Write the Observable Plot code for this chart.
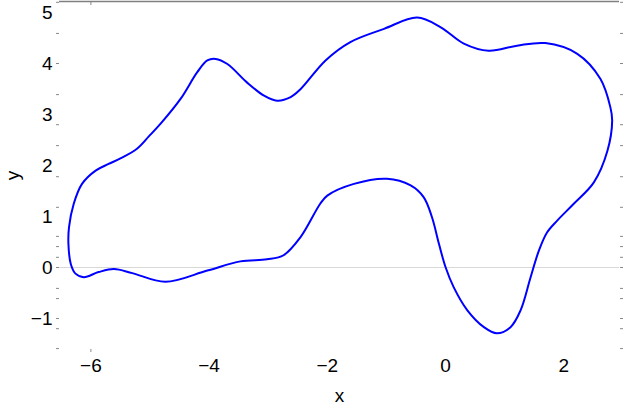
<!DOCTYPE html>
<html>
<head>
<meta charset="utf-8">
<script src="https://cdn.jsdelivr.net/npm/d3@7"></script>
<script src="https://cdn.jsdelivr.net/npm/@observablehq/plot@0.6"></script>
<style>
  html, body { margin: 0; padding: 0; background: #fff; }
</style>
</head>
<body>
<div id="chart"></div>
<script>
// Closed curve (data units)
const curveX = [-6.38, -6.37, -6.29, -6.15, -5.92, -5.70, -5.50, -5.22, -5.02, -4.82, -4.48, -4.20, -4.03, -3.89, -3.69, -3.36,
  -3.07, -2.85, -2.62, -2.45, -2.03, -1.61, -1.04, -0.48, -0.08, 0.31, 0.73, 1.21, 1.69, 2.23, 2.62, 2.79, 2.82, 2.74,
  2.51, 2.17, 1.89, 1.72, 1.58, 1.44, 1.27, 1.10, 0.87, 0.65, 0.37, 0.14, 0.00, -0.11, -0.23, -0.37, -0.59, -0.99,
  -1.55, -2.00, -2.12, -2.45, -2.74, -3.02, -3.47, -4.03, -4.74, -5.30, -5.61, -5.87, -6.12, -6.26, -6.34];
const curveY = [0.46, 0.79, 1.25, 1.64, 1.90, 2.03, 2.14, 2.33, 2.57, 2.82, 3.31, 3.83, 4.06, 4.09, 3.99, 3.63,
  3.37, 3.27, 3.34, 3.50, 4.06, 4.42, 4.68, 4.90, 4.71, 4.39, 4.25, 4.35, 4.40, 4.19, 3.70, 3.14, 2.88, 2.29,
  1.67, 1.25, 0.92, 0.69, 0.33, -0.19, -0.84, -1.17, -1.29, -1.17, -0.84, -0.39, 0.01, 0.46, 0.99, 1.38, 1.61, 1.74,
  1.64, 1.41, 1.25, 0.60, 0.24, 0.16, 0.12, -0.06, -0.28, -0.11, -0.03, -0.09, -0.19, -0.12, 0.07];

const xLabels = [-6, -4, -2, 0, 2];
const yLabels = [-1, 0, 1, 2, 3, 4, 5];
const yTicks = [5.2, 4.59, 4.0, 3.39, 2.80, 2.39, 1.78, 1.18, 0.61, 0.41, 0.20, 0.0, -0.41, -0.61, -1.0, -1.2, -1.59];
const xTicks = [-6];
const xDomain = [-6.531, 2.944];
const yDomain = [-1.608, 5.216];

const points = curveX.map((x, i) => ({x, y: curveY[i]}));
const fmt = d => d < 0 ? "\u2212" + Math.abs(d) : String(d);

const chart = Plot.plot({
  width: 623,
  height: 407,
  marginLeft: 59,
  marginRight: 4,
  marginTop: 1,
  marginBottom: 58,
  style: {fontFamily: "'Liberation Sans', Arial, sans-serif", fontSize: "19px", color: "#000", background: "#fff"},
  x: {domain: xDomain},
  y: {domain: yDomain},
  marks: [
    Plot.ruleY([0], {stroke: "#d8d8d8", strokeWidth: 1}),
    Plot.ruleY([yDomain[1]], {stroke: "#808080", strokeWidth: 1.5}),
    Plot.axisY(yTicks, {anchor: "left", tickSize: 3, text: null, label: null, stroke: "#888"}),
    Plot.axisY(yTicks, {anchor: "right", tickSize: 3, text: null, label: null, stroke: "#888"}),
    Plot.axisY(yLabels, {anchor: "left", tickSize: 0, tickPadding: 7, tickFormat: fmt, fontSize: 19,
      label: "y", labelAnchor: "center", labelArrow: "none", labelOffset: 54, fill: "#000"}),
    Plot.axisX(xTicks, {anchor: "bottom", tickSize: 3, text: null, label: null, stroke: "#888"}),
    Plot.axisX(xTicks, {anchor: "top", tickSize: -3, text: null, label: null, stroke: "#888"}),
    Plot.axisX(xLabels, {anchor: "bottom", tickSize: 0, tickPadding: 9, tickFormat: fmt, fontSize: 19,
      label: "x", labelAnchor: "center", labelArrow: "none", labelOffset: 52, fill: "#000"}),
    Plot.line(points, {x: "x", y: "y", curve: "catmull-rom-closed", stroke: "#0000ff", strokeWidth: 2})
  ]
});
document.getElementById("chart").appendChild(chart);
</script>
</body>
</html>
